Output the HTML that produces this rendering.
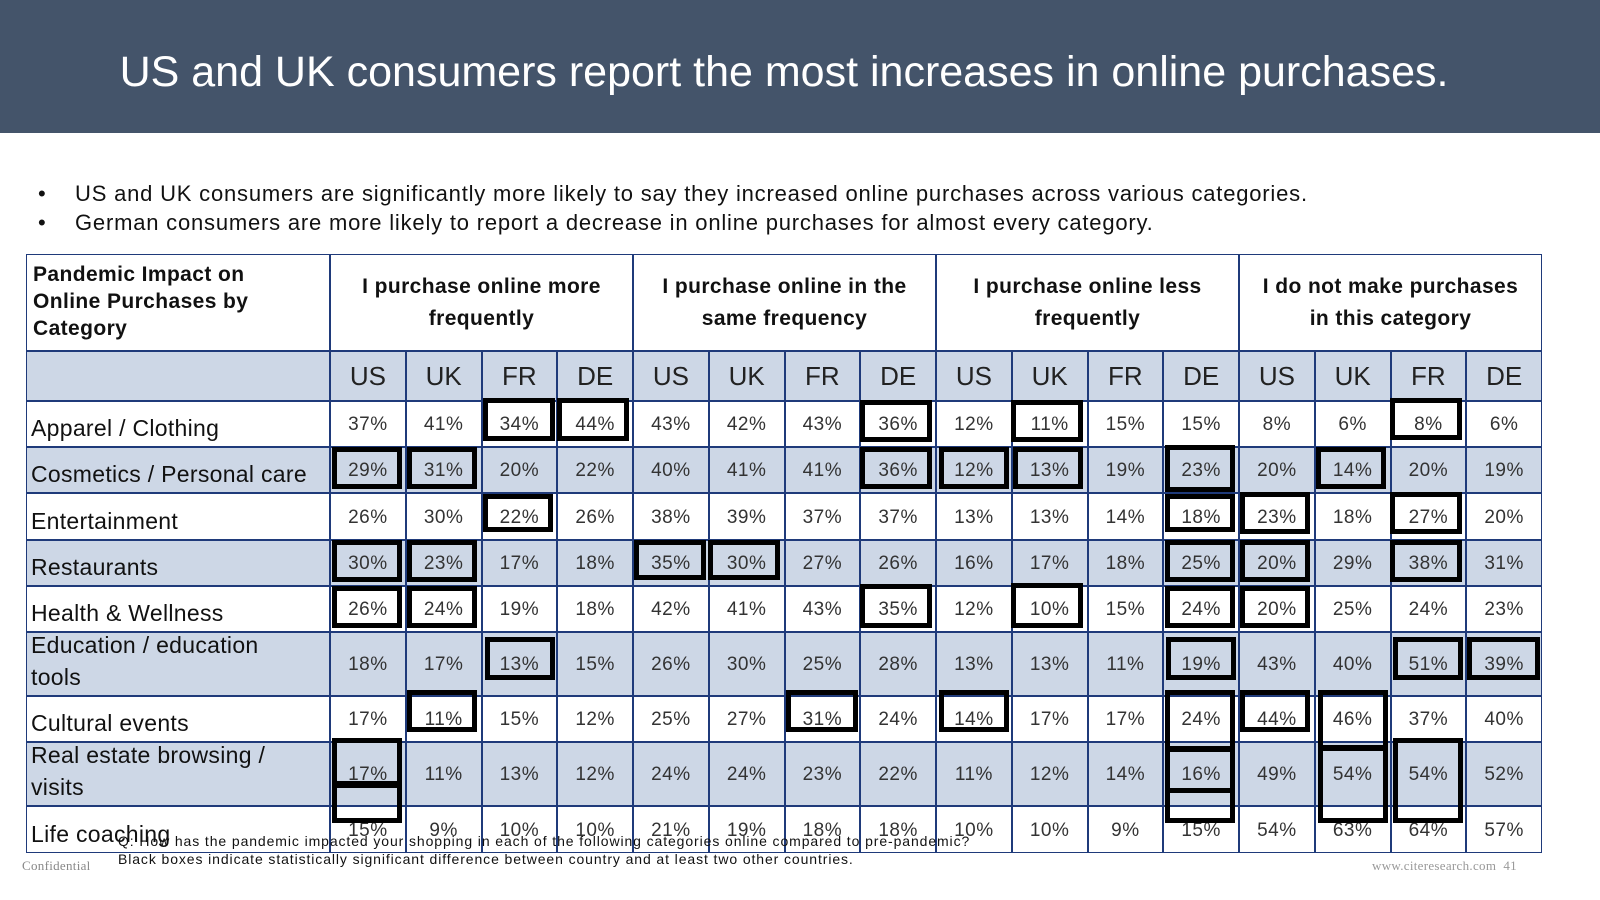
<!DOCTYPE html>
<html><head><meta charset="utf-8"><style>
*{margin:0;padding:0;box-sizing:border-box}
body{width:1600px;height:900px;background:#fff;font-family:"Liberation Sans","DejaVu Sans",sans-serif;position:relative;overflow:hidden;color:#111}
#hdr{position:absolute;left:0;top:0;width:1600px;height:133px;background:#44546a}
#title{position:absolute;left:0;top:48px;width:1568px;text-align:center;color:#fff;font-size:43px}
.bul{position:absolute;left:38px;font-size:22px;letter-spacing:0.8px;color:#111}
.bul span{position:absolute;left:37px;white-space:nowrap}
#grid{position:absolute;left:0;top:0}
.c{position:absolute;border:1.5px solid #1f3a7a;display:flex;align-items:center;justify-content:center;text-align:center;white-space:pre-line}
.v{font-size:19px;color:#333;padding-top:2px;letter-spacing:0.5px}
.lab{justify-content:flex-start;align-items:flex-end;font-size:23px;padding:0 0 2px 4px;text-align:left;line-height:32px;color:#111;letter-spacing:0.3px}
.gh{font-weight:bold;font-size:21px;line-height:32px;letter-spacing:0.4px}
.cc{font-size:26px;color:#222}
.box{position:absolute;border:5px solid #000}
.foot{position:absolute;font-size:14px;letter-spacing:0.9px;color:#111;white-space:nowrap}
</style></head><body>
<div id="hdr"></div>
<div id="title">US and UK consumers report the most increases in online purchases.</div>
<div class="bul" style="top:181px">•<span>US and UK consumers are significantly more likely to say they increased online purchases across various categories.</span></div>
<div class="bul" style="top:210px">•<span>German consumers are more likely to report a decrease in online purchases for almost every category.</span></div>
<div id="grid"></div>
<div class="foot" style="left:118px;top:833px">Q: How has the pandemic impacted your shopping in each of the following categories online compared to pre-pandemic?</div>
<div class="foot" style="left:118px;top:851px">Black boxes indicate statistically significant difference between country and at least two other countries.</div>
<div class="foot" style="left:22px;top:858px;color:#888;font-size:13px;letter-spacing:0.3px;font-family:'Liberation Serif',serif">Confidential</div>
<div class="foot" style="left:1372px;top:858px;color:#999;font-size:13px;letter-spacing:0.3px;font-family:'Liberation Serif',serif">www.citeresearch.com &nbsp;41</div>
<script>
const groups=["I purchase online more\nfrequently","I purchase online in the\nsame frequency","I purchase online less\nfrequently","I do not make purchases\nin this category"];
const countries=["US","UK","FR","DE"];
const categories=["Apparel / Clothing","Cosmetics / Personal care","Entertainment","Restaurants","Health & Wellness","Education / education\ntools","Cultural events","Real estate browsing /\nvisits","Life coaching"];
const values=[
[37,41,34,44,43,42,43,36,12,11,15,15,8,6,8,6],
[29,31,20,22,40,41,41,36,12,13,19,23,20,14,20,19],
[26,30,22,26,38,39,37,37,13,13,14,18,23,18,27,20],
[30,23,17,18,35,30,27,26,16,17,18,25,20,29,38,31],
[26,24,19,18,42,41,43,35,12,10,15,24,20,25,24,23],
[18,17,13,15,26,30,25,28,13,13,11,19,43,40,51,39],
[17,11,15,12,25,27,31,24,14,17,17,24,44,46,37,40],
[17,11,13,12,24,24,23,22,11,12,14,16,49,54,54,52],
[15,9,10,10,21,19,18,18,10,10,9,15,54,63,64,57]];
const g=document.getElementById('grid');
const X0=26,C0=330,CW=75.75;
const rowY=[401,447,493,540,586,632,696,742,806,853];
function cell(x,y,w,h,txt,cls,bg,name){const d=document.createElement('div');d.className='c '+cls;d.style.left=x+'px';d.style.top=y+'px';d.style.width=w+'px';d.style.height=h+'px';if(bg)d.style.background=bg;d.textContent=txt;


g.appendChild(d);return d;}
const hc=cell(X0,254,C0-X0,97,"Pandemic Impact on\nOnline Purchases by\nCategory","gh",null,'corner-header');
hc.style.justifyContent='flex-start';hc.style.alignItems='flex-start';hc.style.textAlign='left';hc.style.padding='6px 6px';hc.style.lineHeight='27px';
groups.forEach((t,i)=>{const d=cell(C0+i*4*CW,254,4*CW,97,t,"gh",null,'group-header');d.style.padding='4px 6px';});
cell(X0,351,C0-X0,50,"","",'#cdd7e6','country-row-blank');
for(let j=0;j<16;j++)cell(C0+j*CW,351,CW,50,countries[j%4],"cc",'#cdd7e6','country-header');
categories.forEach((cat,r)=>{const y=rowY[r],h=rowY[r+1]-y,bg=r%2?'#cdd7e6':'#fff';
cell(X0,y,C0-X0,h,cat,"lab",bg,'category-label');
values[r].forEach((v,j)=>cell(C0+j*CW,y,CW,h,v+'%',"v",bg,'value-cell'));});
const boxes=[[483,398,72,43],[557,398,72,43],[860,400,72,42],[1011,400,72,42],[1390,398,72,42],
[332,447,70,42],[407,447,70,42],[860,447,72,42],[939,447,70,42],[1013,447,70,42],[1165,445,70,47],[1316,447,70,42],
[483,494,70,38],[1165,494,70,38],[1240,492,70,42],[1390,492,72,42],
[332,540,70,42],[407,540,70,42],[634,540,72,40],[708,540,72,40],[1165,540,70,42],[1240,540,70,42],[1390,540,72,42],
[332,586,70,42],[407,586,70,42],[860,584,72,44],[1011,583,72,45],[1165,586,70,42],[1240,586,70,42],
[485,637,70,43],[1166,637,70,43],[1393,637,70,43],[1467,637,73,43],
[407,690,70,42],[786,690,72,42],[939,690,70,42],[1165,690,70,61],[1240,690,70,42],[1318,690,70,61],
[332,738,70,48],[332,783,70,40],[1165,747,70,46],[1165,788,70,35],[1318,745,70,78],[1393,738,70,85]];
boxes.forEach(b=>{const d=document.createElement('div');d.className='box';d.style.left=b[0]+'px';d.style.top=b[1]+'px';d.style.width=b[2]+'px';d.style.height=b[3]+'px';


g.appendChild(d);});
</script>
</body></html>
